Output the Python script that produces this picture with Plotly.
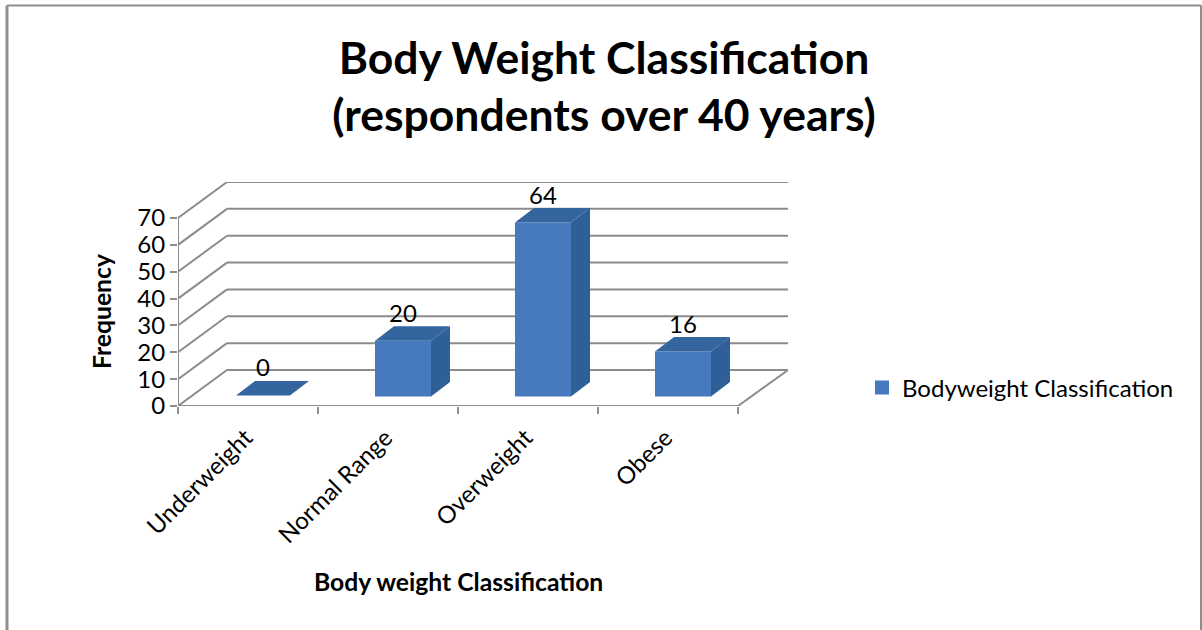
import plotly.graph_objects as go

categories = ["Underweight", "Normal Range", "Overweight", "Obese"]
values = [0, 20, 64, 16]
y_ticks = [0, 10, 20, 30, 40, 50, 60, 70]
series_name = "Bodyweight Classification"
title_text = "Body Weight Classification<br>(respondents over 40 years)"
x_title = "Body weight Classification"
y_title = "Frequency"

W, H = 1202, 630
FONT = "Lato, Carlito, Calibri, sans-serif"
GRID = "#8c8c8c"
FRONT = "#4679bd"
SIDE = "#2f5f97"
TOP = "#34659f"

# plot box in pixels, and the oblique projection in axis units
L, R, T, B = 178, 788, 182, 406
px_x = 140.0
px_y = (406 - 218) / 70.0
x0 = -0.5
x_front_end = x0 + len(categories)
x_max = x0 + (R - L) / px_x
y_max = (B - T) / px_y
wall_dx = 49 / px_x
wall_dy = 36 / px_y

bar_w = 54 / px_x
bar_shift = 15 / px_x
bar_base = 10.5 / px_y
bar_dx = 19 / px_x
bar_dy = 14.5 / px_y
label_up = 26 / px_y
label_nudge = 2.5 / px_x

shapes = []
def seg(xa, ya, xb, yb):
    shapes.append(dict(type="line", xref="x", yref="y", x0=xa, y0=ya, x1=xb, y1=yb,
                       line=dict(color=GRID, width=2), layer="below"))

for t in y_ticks:
    seg(x0, t, x0 + wall_dx, t + wall_dy)
    seg(x0 + wall_dx, t + wall_dy, x_max, t + wall_dy)
seg(x0, 0, x0, y_ticks[-1])
seg(x0, 0, x_front_end, 0)
seg(x_front_end, 0, x_max, wall_dy)

# outer chart frame, open at the bottom
for a, b, c, d, w in [(7, 630, 7, 5.5, 3), (7, 5.5, 1201, 5.5, 2), (1201, 5.5, 1201, 630, 2)]:
    shapes.append(dict(type="line", xref="paper", yref="paper", x0=a / W, x1=c / W,
                       y0=1 - b / H, y1=1 - d / H, line=dict(color="#8e8e8e", width=w), layer="below"))

fig = go.Figure()
centers = [i + bar_shift for i in range(len(categories))]

for c, v in zip(centers, values):
    pad_x = 1 / px_x if v > 0 else 0
    pad_y = 1 / px_y if v > 0 else 0
    xl, xr = c - bar_w / 2 - pad_x, c + bar_w / 2 + pad_x
    yb, yt = bar_base - pad_y, bar_base + v + pad_y
    if v > 0:
        fig.add_trace(go.Scatter(x=[xr, xr + bar_dx, xr + bar_dx, xr, xr], y=[yb, yb + bar_dy, yt + bar_dy, yt, yb],
                                 fill="toself", fillcolor=SIDE, mode="lines", line=dict(width=0),
                                 showlegend=False, hoverinfo="skip"))
    fig.add_trace(go.Scatter(x=[xl, xr, xr + bar_dx, xl + bar_dx, xl], y=[yt, yt, yt + bar_dy, yt + bar_dy, yt],
                             fill="toself", fillcolor=TOP, mode="lines", line=dict(width=0),
                             showlegend=False, hoverinfo="skip"))

# a zero-height front face has nothing to show: only its top face is visible
fig.add_trace(go.Bar(x=centers, y=[v if v > 0 else None for v in values], base=bar_base, width=bar_w,
                     name=series_name,
                     marker=dict(color=FRONT, line=dict(width=2, color=FRONT)), showlegend=True))

fig.add_trace(go.Scatter(x=centers, y=[v + bar_base + label_up for v in values], mode="text",
                         text=[str(v) for v in values], textposition="middle center",
                         textfont=dict(size=24, color="#000000", family=FONT),
                         showlegend=False, hoverinfo="skip"))

fig.update_layout(
    width=W, height=H, margin=dict(l=0, r=0, t=0, b=0, autoexpand=False),
    paper_bgcolor="white", plot_bgcolor="rgba(0,0,0,0)",
    font=dict(family=FONT, color="#000000", size=24),
    shapes=shapes,
    title=dict(text=title_text, x=604 / W, xanchor="center", y=1 - 73.5 / H, yanchor="middle",
               automargin=False,
               font=dict(size=44.5, family=FONT, color="#000000", weight="bold")),
    legend=dict(x=862 / W, y=1 - 388 / H, xanchor="left", yanchor="middle",
                bgcolor="rgba(0,0,0,0)", font=dict(size=24, family=FONT)),
    xaxis=dict(domain=[L / W, R / W], range=[x0, x_max], showgrid=False, showline=False, zeroline=False,
               automargin=False,
               tickmode="array", tickvals=[i - label_nudge for i in range(len(categories))], ticktext=categories,
               tickangle=-45, ticks="", ticklabelstandoff=12, tickfont=dict(size=24, family=FONT),
               minor=dict(tickmode="array", tickvals=[x0 + i for i in range(len(categories) + 1)],
                          ticks="outside", ticklen=7, tickwidth=2, tickcolor=GRID, showgrid=False)),
    yaxis=dict(domain=[1 - B / H, 1 - T / H], range=[0, y_max], showgrid=False, showline=False, zeroline=False,
               automargin=False,
               tickmode="array", tickvals=y_ticks, ticks="outside", ticklen=7, tickwidth=2, tickcolor=GRID,
               tickfont=dict(size=24, family=FONT)),
    annotations=[
        dict(text=f"<b>{y_title}</b>", xref="paper", yref="paper", x=101 / W, y=1 - 311 / H, showarrow=False,
             textangle=-90, xanchor="center", yanchor="middle", font=dict(size=24.7, family=FONT)),
        dict(text=f"<b>{x_title}</b>", xref="paper", yref="paper", x=458 / W, y=1 - 581 / H, showarrow=False,
             xanchor="center", yanchor="middle", font=dict(size=24.7, family=FONT)),
    ],
)

fig.write_html("out.html", config=dict(displayModeBar=False), post_script="document.body.style.margin='0';")
